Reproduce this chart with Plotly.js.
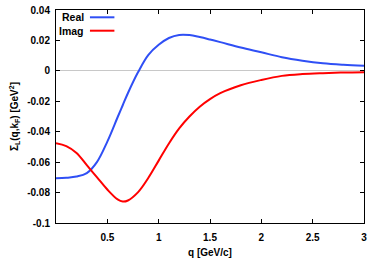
<!DOCTYPE html>
<html>
<head>
<meta charset="utf-8">
<script src="https://cdn.plot.ly/plotly-3.0.1.min.js"></script>
<style>html,body{margin:0;padding:0;background:#fff;}#chart{width:381px;height:262px;}</style>
</head>
<body>
<div id="chart"></div>
<script>
const q =      [0, 0.1, 0.2, 0.3, 0.4, 0.5, 0.6, 0.65, 0.7, 0.8, 0.9, 1.0, 1.1, 1.2, 1.3, 1.4, 1.5, 1.6, 1.8, 2.0, 2.2, 2.4, 2.6, 2.8, 3.0];
const realPart = [-0.0706, -0.0703, -0.0695, -0.0672, -0.0598, -0.0465, -0.0305, -0.0226, -0.0147, -0.0008, 0.0105, 0.0171, 0.0216, 0.0236, 0.0235, 0.0222, 0.0206, 0.0189, 0.0153, 0.0122, 0.0090, 0.0067, 0.0050, 0.0040, 0.0033];
const imagPart = [-0.0476, -0.0495, -0.0540, -0.0620, -0.0700, -0.0780, -0.0845, -0.0859, -0.0852, -0.0797, -0.0703, -0.0590, -0.0477, -0.0378, -0.0300, -0.0236, -0.0186, -0.0147, -0.0095, -0.0060, -0.0033, -0.0021, -0.0015, -0.0011, -0.0009];
const xTickVals = [0.5, 1, 1.5, 2, 2.5, 3];
const xTickText = ["0.5", "1", "1.5", "2", "2.5", "3"];
const yTickVals = [-0.1, -0.08, -0.06, -0.04, -0.02, 0, 0.02, 0.04];
const yTickText = ["-0.1", "-0.08", "-0.06", "-0.04", "-0.02", "0", "0.02", "0.04"];
const seriesNames = ["Real", "Imag"];
const colors = ["#2f4ff5", "#ff0000"];

const FONT = "Liberation Sans, Arial, sans-serif";
const traces = [
  {x: q, y: realPart, name: seriesNames[0], mode: "lines", line: {color: colors[0], width: 2, shape: "spline", smoothing: 1}},
  {x: q, y: imagPart, name: seriesNames[1], mode: "lines", line: {color: colors[1], width: 2, shape: "spline", smoothing: 1}}
];

const axisCommon = {
  showline: true, linecolor: "#000", linewidth: 1, mirror: "ticks",
  ticks: "inside", ticklen: 4, tickcolor: "#000", tickwidth: 1,
  showgrid: false,
  tickfont: {family: FONT, size: 10, color: "#000", weight: "bold"}
};

const layout = {
  width: 381, height: 262,
  margin: {l: 55.5, r: 17, t: 10, b: 39},
  paper_bgcolor: "#fff", plot_bgcolor: "#fff",
  showlegend: false,
  xaxis: Object.assign({}, axisCommon, {
    range: [0, 3], tickvals: xTickVals, ticktext: xTickText, zeroline: false,
    ticklabelstandoff: 5,
    title: {text: "q [GeV/c]", font: {family: FONT, size: 10, color: "#000", weight: "bold"}, standoff: 6}
  }),
  yaxis: Object.assign({}, axisCommon, {
    range: [-0.1, 0.04], tickvals: yTickVals, ticktext: yTickText,
    zeroline: true, zerolinecolor: "#c8c8c8", zerolinewidth: 1,
    ticklabelstandoff: 3,
    title: {text: "Σ<sub>L</sub>(q,k<sub>F</sub>) [GeV<sup>2</sup>]", font: {family: FONT, size: 10, color: "#000", weight: "bold"}, standoff: 6}
  }),
  annotations: [
    {xref: "paper", yref: "paper", x: (85.5 - 55.5) / 308.5, y: (223 - 17.3) / 213, xanchor: "right", yanchor: "middle", text: "<b>" + seriesNames[0] + "</b>", showarrow: false, font: {family: FONT, size: 10.5, color: "#000"}},
    {xref: "paper", yref: "paper", x: (85.5 - 55.5) / 308.5, y: (223 - 30.7) / 213, xanchor: "right", yanchor: "middle", text: "<b>" + seriesNames[1] + "</b>", showarrow: false, font: {family: FONT, size: 10.5, color: "#000"}}
  ],
  shapes: [
    {type: "line", xref: "paper", yref: "paper", x0: (89.5 - 55.5) / 308.5, x1: (114 - 55.5) / 308.5, y0: (223 - 17.3) / 213, y1: (223 - 17.3) / 213, line: {color: colors[0], width: 2}},
    {type: "line", xref: "paper", yref: "paper", x0: (89.5 - 55.5) / 308.5, x1: (114 - 55.5) / 308.5, y0: (223 - 30.7) / 213, y1: (223 - 30.7) / 213, line: {color: colors[1], width: 2}}
  ]
};

Plotly.newPlot("chart", traces, layout, {staticPlot: true, displayModeBar: false});
</script>
</body>
</html>
